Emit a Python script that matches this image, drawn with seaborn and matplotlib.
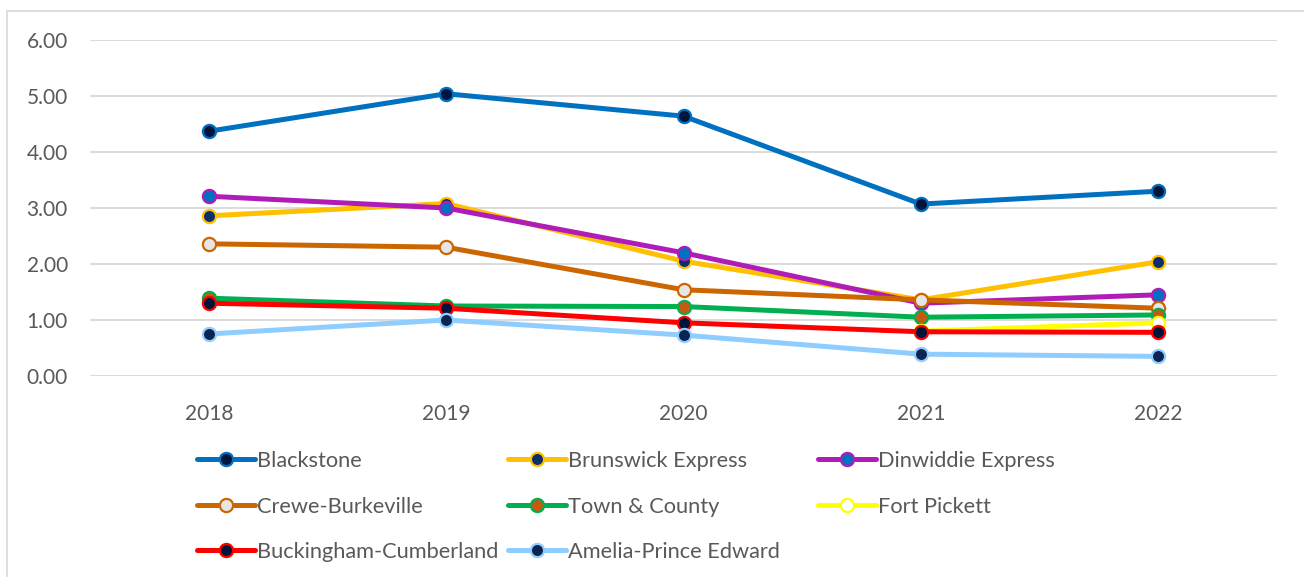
import numpy as np
import matplotlib
matplotlib.use('Agg')
import matplotlib.pyplot as plt
from matplotlib.lines import Line2D
import seaborn as sns

# Data
years = ['2018', '2019', '2020', '2021', '2022']
blackstone = [4.37, 5.04, 4.64, 3.07, 3.30]
brunswick = [2.86, 3.08, 2.05, 1.36, 2.04]
dinwiddie = [3.21, 3.00, 2.20, 1.30, 1.45]
crewe = [2.36, 2.30, 1.54, 1.36, 1.21]
town_county = [1.39, 1.25, 1.24, 1.05, 1.09]
fort_pickett = [np.nan, np.nan, np.nan, 0.80, 0.95]
buckingham = [1.30, 1.21, 0.95, 0.79, 0.78]
amelia = [0.75, 1.00, 0.73, 0.39, 0.35]

series = [
    ('Blackstone', blackstone, '#0070C0', '#00143C'),
    ('Brunswick Express', brunswick, '#FFC000', '#0B2F6B'),
    ('Dinwiddie Express', dinwiddie, '#B01CB8', '#0070C0'),
    ('Crewe-Burkeville', crewe, '#CC6600', '#E7E6E6'),
    ('Town & County', town_county, '#00B050', '#C55A11'),
    ('Fort Pickett', fort_pickett, '#FFFF00', '#FFFFFF'),
    ('Buckingham-Cumberland', buckingham, '#FF0000', '#00143C'),
    ('Amelia-Prince Edward', amelia, '#8FCDFF', '#0B2550'),
]

sns.set_style('white')
plt.rcParams['font.family'] = ['Lato', 'DejaVu Sans']

fig = plt.figure(figsize=(13.04, 5.77), dpi=100)
ax = fig.add_axes([90 / 1304, 1 - 376 / 577, (1277 - 90) / 1304, 336 / 577])

x = np.arange(len(years))
handles = []
for name, vals, lc, fc in series:
    sns.lineplot(x=x, y=vals, ax=ax, color=lc, linewidth=3.6, marker='o',
                 markersize=9.5, markerfacecolor=fc, markeredgecolor=lc,
                 markeredgewidth=1.6, legend=False)
    handles.append(Line2D([], [], color=lc, linewidth=3.6, marker='o', markersize=9.5,
                          markerfacecolor=fc, markeredgecolor=lc, markeredgewidth=1.6,
                          label=name))

ax.set_xlim(-0.5, 4.5)
ax.set_ylim(0, 6)
ax.set_xticks(x)
ax.set_xticklabels(years)
ax.set_yticks(np.arange(0, 7, 1))
ax.set_yticklabels([f'{v:.2f}' for v in range(7)])
ax.yaxis.grid(True, color='#D9D9D9', linewidth=1.3)
ax.set_axisbelow(True)
for s in ax.spines.values():
    s.set_visible(False)
ax.tick_params(axis='both', length=0, labelsize=15, labelcolor='#595959')
ax.tick_params(axis='y', pad=16)
ax.tick_params(axis='x', pad=20)
ax.set_xlabel('')
ax.set_ylabel('')

# Legend: three columns placed like the reference
col_x = [197, 508, 818]
cols = [[0, 3, 6], [1, 4, 7], [2, 5]]
for cx, idx in zip(col_x, cols):
    fig.legend(handles=[handles[i] for i in idx], loc='upper left',
               bbox_to_anchor=(cx / 1304, 1 - 451 / 577), frameon=False,
               fontsize=15.7, labelcolor='#595959', handlelength=2.65,
               handletextpad=0.1, labelspacing=1.17, borderaxespad=0, borderpad=0)

# Chart border (top and left edges visible in the reference)
fig.add_artist(Line2D([7 / 1304, 1], [1 - 11 / 577, 1 - 11 / 577], color='#D9D9D9', linewidth=1.2))
fig.add_artist(Line2D([7 / 1304, 7 / 1304], [0, 1 - 11 / 577], color='#D9D9D9', linewidth=1.2))

fig.savefig('out.png', dpi=100)
